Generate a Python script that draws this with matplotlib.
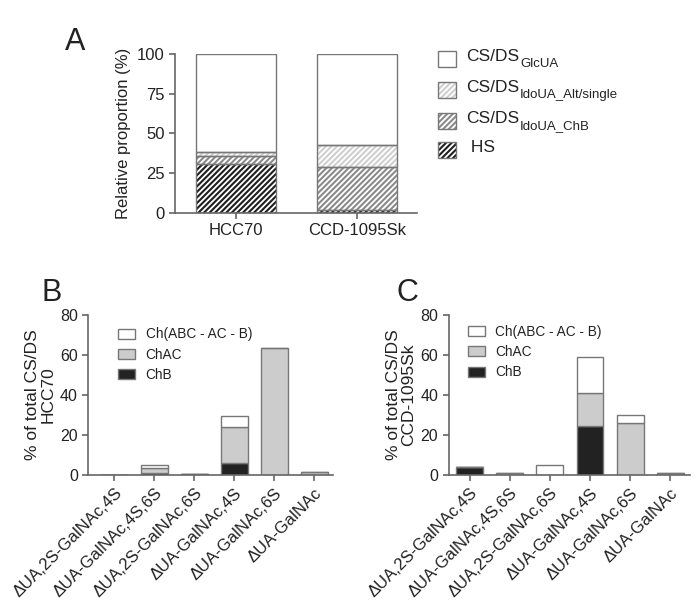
import matplotlib
matplotlib.use("Agg")
import matplotlib.pyplot as plt
from matplotlib.patches import Rectangle
import numpy as np

plt.rcParams['font.family'] = ['Liberation Sans', 'DejaVu Sans']
plt.rcParams['hatch.linewidth'] = 1.5

# --- Panel A data ---
cells = ["HCC70", "CCD-1095Sk"]
hs = [31, 2]
ido_chb = [5, 27]
ido_alt = [2.5, 14]
glcua = [61.5, 57]

# --- Panels B / C data ---
disacch = ["ΔUA,2S-GalNAc,4S", "ΔUA-GalNAc,4S,6S", "ΔUA,2S-GalNAc,6S",
           "ΔUA-GalNAc,4S", "ΔUA-GalNAc,6S", "ΔUA-GalNAc"]
hcc_chb = [0, 1.2, 0.3, 6, 0, 0]
hcc_chac = [0, 2.3, 0, 18, 63.5, 1.5]
hcc_rest = [0, 1.5, 0, 5.5, 0, 0]
ccd_chb = [3.8, 0, 0, 24.5, 0, 0]
ccd_chac = [0, 0.8, 0, 16.5, 26, 0.8]
ccd_rest = [0, 0, 5, 18, 4, 0]

TXT = "#222222"
SPINE = "#666666"
EDGE = "#777777"

fig = plt.figure(figsize=(7, 6.05), dpi=100)


def style_axes(ax):
    for s in ["top", "right"]:
        ax.spines[s].set_visible(False)
    for s in ["left", "bottom"]:
        ax.spines[s].set_color(SPINE)
        ax.spines[s].set_linewidth(1.2)
    ax.tick_params(colors=SPINE, labelcolor=TXT, width=1.2, length=4)


# ===== Panel A =====
axA = fig.add_axes([0.25, 0.648, 0.346, 0.263])
x = np.arange(len(cells))
w = 0.66
b1 = np.array(hs)
b2 = b1 + np.array(ido_chb)
b3 = b2 + np.array(ido_alt)
axA.bar(x, hs, w, color="white", edgecolor="#1e1e1e", hatch="//////", linewidth=0)
axA.bar(x, ido_chb, w, bottom=b1, color="white", edgecolor="#8a8a8a", hatch="//////", linewidth=0)
axA.bar(x, ido_alt, w, bottom=b2, color="white", edgecolor="#cfcfcf", hatch="//////", linewidth=0)
axA.bar(x, glcua, w, bottom=b3, color="white", edgecolor=EDGE, linewidth=0)
# outlines
for bottom, h in [(0, hs), (b1, ido_chb), (b2, ido_alt), (b3, glcua)]:
    axA.bar(x, h, w, bottom=bottom, fill=False, edgecolor=EDGE, linewidth=1.0)
axA.set_xlim(-0.5, 1.5)
axA.set_ylim(0, 100)
axA.set_yticks([0, 25, 50, 75, 100])
axA.set_xticks(x)
axA.set_xticklabels(cells)
style_axes(axA)
axA.tick_params(labelsize=12)
axA.set_ylabel("Relative proportion (%)", fontsize=12, color=TXT)
fig.text(0.108, 1 - 42 / 605, "A", fontsize=22, color=TXT, ha="center", va="center")

# legend for A drawn by hand: patch, main text, subscript
leg_items = [
    (EDGE, None, "CS/DS", "GlcUA"),
    ("#cfcfcf", "//////", "CS/DS", "IdoUA_Alt/single"),
    ("#8a8a8a", "//////", "CS/DS", "IdoUA_ChB"),
    ("#1e1e1e", "//////", " HS", ""),
]
rows_y = [59, 90, 121, 150]
for (hc, hatch, lab, sub), yy in zip(leg_items, rows_y):
    yf = 1 - yy / 605
    r = Rectangle((438 / 700, yf - 0.014), 0.026, 0.028, transform=fig.transFigure,
                  facecolor="white", edgecolor=hc, hatch=hatch, linewidth=0)
    fig.add_artist(r)
    r2 = Rectangle((438 / 700, yf - 0.014), 0.026, 0.028, transform=fig.transFigure,
                   fill=False, edgecolor=EDGE, linewidth=1.0)
    fig.add_artist(r2)
    fig.text(466 / 700, yf + 0.004, lab, fontsize=12.5, color=TXT, va="center", ha="left")
    if sub:
        fig.text(520 / 700, yf - 0.009, sub, fontsize=9.5, color=TXT, va="center", ha="left")


# ===== Panels B and C =====
def stacked(ax, chb, chac, rest, ylab, leg_anchor):
    xs = np.arange(len(disacch))
    bw = 0.67
    chb = np.array(chb)
    chac = np.array(chac)
    rest = np.array(rest)
    ax.bar(xs, chb, bw, color="#222222", edgecolor=EDGE, linewidth=1.0, label="ChB")
    ax.bar(xs, chac, bw, bottom=chb, color="#cccccc", edgecolor=EDGE, linewidth=1.0, label="ChAC")
    ax.bar(xs, rest, bw, bottom=chb + chac, color="white", edgecolor=EDGE, linewidth=1.0,
           label="Ch(ABC - AC - B)")
    ax.set_ylim(0, 80)
    ax.set_yticks([0, 20, 40, 60, 80])
    ax.set_xticks(xs)
    ax.set_xticklabels(disacch, rotation=45, ha="right", rotation_mode="anchor", fontsize=12)
    style_axes(ax)
    ax.tick_params(axis="y", labelsize=11.5)
    ax.set_ylabel(ylab, fontsize=12.5, color=TXT, linespacing=1.05, labelpad=3)
    h, l = ax.get_legend_handles_labels()
    ax.legend(h[::-1], l[::-1], loc="upper left", bbox_to_anchor=leg_anchor, frameon=False,
              fontsize=9.8, handlelength=1.25, handleheight=0.75, labelspacing=0.45,
              handletextpad=0.75, labelcolor=TXT)


axB = fig.add_axes([0.126, 0.215, 0.35, 0.264])
stacked(axB, hcc_chb, hcc_chac, hcc_rest, "% of total CS/DS\nHCC70", (0.073, 1.0))
axB.set_xlim(-0.65, 5.475)
fig.text(52 / 700, 1 - 293 / 605, "B", fontsize=22, color=TXT, ha="center", va="center")

axC = fig.add_axes([0.641, 0.215, 0.345, 0.264])
stacked(axC, ccd_chb, ccd_chac, ccd_rest, "% of total CS/DS\nCCD-1095Sk", (0.03, 1.015))
axC.set_xlim(-0.525, 5.5)
fig.text(407 / 700, 1 - 293 / 605, "C", fontsize=22, color=TXT, ha="center", va="center")

fig.savefig("out.png", dpi=100)
